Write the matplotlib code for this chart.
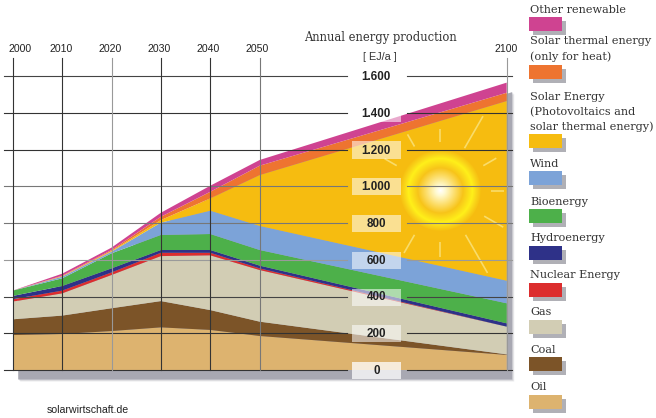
import numpy as np
import matplotlib
matplotlib.use("Agg")
import matplotlib.pyplot as plt
from matplotlib.patches import Rectangle
from matplotlib.transforms import offset_copy, ScaledTranslation
from matplotlib.colors import to_rgb

years = [2000, 2010, 2020, 2030, 2040, 2050, 2100]
oil = [190, 196, 212, 232, 218, 185, 82]
coal = [86, 100, 124, 143, 108, 78, 3]
gas = [96, 121, 181, 245, 298, 281, 151]
nuclear = [13, 15, 14, 18, 14, 9, 0]
hydro = [18, 25, 22, 15, 15, 15, 18]
bioenergy = [29, 42, 82, 82, 87, 85, 109]
wind = [0, 9, 9, 67, 127, 131, 123]
solar = [0, 2, 4, 14, 67, 277, 978]
solar_thermal = [0, 3, 5, 18, 36, 51, 45]
other_renewable = [0, 11, 13, 22, 33, 31, 55]
y_levels = [0, 200, 400, 600, 800, 1000, 1200, 1400, 1600]
y_labels = ["0", "200", "400", "600", "800", "1.000", "1.200", "1.400", "1.600"]
legend_labels = ["Other renewable", "Solar thermal energy\n(only for heat)",
                 "Solar Energy\n(Photovoltaics and\nsolar thermal energy)", "Wind", "Bioenergy",
                 "Hydroenergy", "Nuclear Energy", "Gas", "Coal", "Oil"]

colors = ["#DDB36F", "#7C5428", "#D2CDB4", "#DC2D2E", "#2E3188",
          "#4DB04A", "#7CA3D8", "#F6BC10", "#EE7430", "#CF4391"]
SERIF = "DejaVu Serif"
SANS = "Liberation Sans"
W, H = 656, 418

fig = plt.figure(figsize=(W / 100, H / 100), dpi=100, facecolor="white")
x0, x1, y0, ytop = 12.7, 506.7, 370, 58
ax = fig.add_axes([x0 / W, (H - y0) / H, (x1 - x0) / W, (y0 - ytop) / H])
pxx = (x1 - x0) / 100
pxy = 294 / 1600
ax.set_xlim(2000, 2100)
ax.set_ylim(0, (y0 - ytop) / pxy)
for s in ax.spines.values():
    s.set_visible(False)
ax.patch.set_visible(False)

layers = [oil, coal, gas, nuclear, hydro, bioenergy, wind, solar, solar_thermal, other_renewable]
total = np.sum(layers, axis=0)

# soft drop shadow
for dx, dy, a in [(7, -11, .25), (6, -10, .35), (5, -9, 1)]:
    tr = offset_copy(ax.transData, fig=fig, x=dx, y=dy, units="dots")
    ax.fill_between(years, 0, total, transform=tr, color="#A8A8B2", alpha=a, lw=0, zorder=1, clip_on=False)

ax.stackplot(years, layers, colors=colors, lw=0, zorder=2)

# sun
cx, cy = 2086.5, 976
R = 41
n = 83
gy, gx = np.mgrid[-1:1:n * 1j, -1:1:n * 1j]
r = np.hypot(gx, gy)
sol = np.array(to_rgb(colors[7]))
stops_r = [0, .12, .35, .55, .78, .88, 1]
stops_c = [(1, 1, 1), (1, .98, .82), (.99, .87, .42), (.97, .77, .10), (1, .94, .10), (.98, .84, .10), sol]
rgba = np.zeros((n, n, 4))
for i in range(3):
    rgba[..., i] = np.interp(r, stops_r, [c[i] for c in stops_c])
rgba[..., 3] = (r <= 1).astype(float)
ax.imshow(rgba, extent=[cx - R / pxx, cx + R / pxx, cy - R / pxy, cy + R / pxy],
          aspect="auto", zorder=3, interpolation="bilinear")
ax.set_xlim(2000, 2100)
ax.set_ylim(0, (y0 - ytop) / pxy)
ray_angles = [90, 60, 30, 0, -30, -60, -90, -120, 150, 120]
ray_inner = [49, 49, 50, 51, 51, 51, 51, 51, 50, 51]
ray_outer = [62, 86, 65, 64, 73, 95, 66, 72, 64, 65]
for a, ri, ro in zip(ray_angles, ray_inner, ray_outer):
    c, s = np.cos(np.radians(a)), np.sin(np.radians(a))
    ax.plot([cx + ri * c / pxx, cx + ro * c / pxx], [cy + ri * s / pxy, cy + ro * s / pxy],
            color="#F9DC6A", lw=1.2, zorder=3, solid_capstyle="butt")

# grid
left, right = 2000 - 8.7 / pxx, 2100 + 5.5 / pxx
gap_l, gap_r = 2067.6, 2079.8
line_cols = {0: "#333333", 200: "#333333", 400: "#444444", 600: "#9a9a9a", 800: "#777777",
             1000: "#777777", 1200: "#333333", 1400: "#333333", 1600: "#444444"}
for v in y_levels:
    ax.plot([left, gap_l], [v, v], color=line_cols[v], lw=.8, zorder=4, clip_on=False)
    ax.plot([gap_r, right], [v, v], color=line_cols[v], lw=.8, zorder=4, clip_on=False)
vcols = {2000: "#333333", 2010: "#333333", 2020: "#999999", 2030: "#333333",
         2040: "#333333", 2050: "#777777", 2100: "#999999"}
for yr in years:
    ax.plot([yr, yr], [0, (y0 - ytop) / pxy], color=vcols[yr], lw=.8, zorder=4, clip_on=False)

ax.set_xticks(years)
ax.set_xticklabels([str(y) for y in years], fontfamily=SANS, fontsize=7.6, color="#222222")
ax.tick_params(axis="x", length=0, top=True, labeltop=True, bottom=False, labelbottom=False, pad=3)
ax.set_yticks([])
label_shift = [7.5, -0.5, -1, -1.5, -2.5, -2.5, -0.5]
for t, sh in zip(ax.get_xticklabels(which="major"), label_shift):
    t.set_transform(t.get_transform() + ScaledTranslation(sh / 100, 0, fig.dpi_scale_trans))

# value labels in the chart
xc = 2073.6
for v, lab in zip(y_levels, y_labels):
    ax.add_patch(Rectangle((xc - 24.5 / pxx, v - 9 / pxy), 49 / pxx, 17 / pxy, fc="white",
                           alpha=.55 if v else .75, ec="none", zorder=5, clip_on=False))
    ax.text(xc, v - 1 / pxy, lab, ha="center", va="center", fontfamily=SANS, fontweight="bold",
            fontsize=8.4, color="#222222", zorder=6, clip_on=False)

# overlay in pixels for legend and captions
ov = fig.add_axes([0, 0, 1, 1], zorder=10)
ov.set_xlim(0, W)
ov.set_ylim(H, 0)
ov.axis("off")
ov.text(380.5, 38, "Annual energy production", ha="center", va="center", fontfamily=SERIF,
        fontsize=8.3, color="#333333")
ov.text(380, 57, "[ EJ/a ]", ha="center", va="center", fontfamily=SANS, fontsize=7.8, color="#333333")
ov.text(47, 410, "solarwirtschaft.de", ha="left", va="center", fontfamily=SANS, fontsize=7.6, color="#222222")

swatch_top = [17, 65, 134, 171, 209, 246, 283, 320, 357, 395]
text_top = [10, 41.5, 97, 164, 202, 238, 275, 312, 350, 387]
leg_colors = colors[::-1]
for lab, st, tt, col in zip(legend_labels, swatch_top, text_top, leg_colors):
    ov.add_patch(Rectangle((533, st + 4), 33, 14, fc="#B0B0B6", ec="none"))
    ov.add_patch(Rectangle((529, st), 33, 14, fc=col, ec="none"))
    for i, line in enumerate(lab.split("\n")):
        ov.text(530, tt + i * 15, line, ha="left", va="center", fontfamily=SERIF, fontsize=8.15, color="#333333")

fig.savefig("out.png", dpi=100, facecolor="white")
